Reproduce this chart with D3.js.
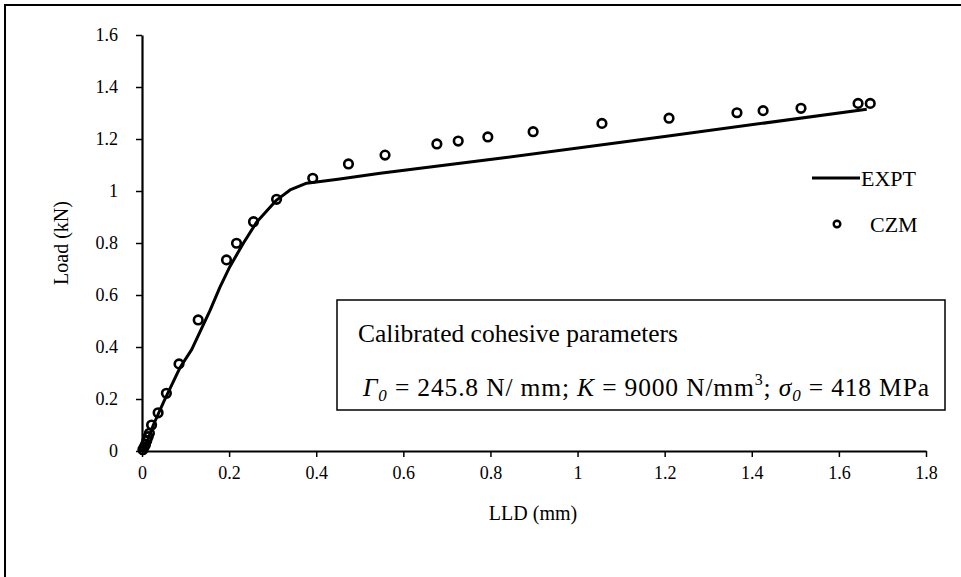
<!DOCTYPE html>
<html>
<head>
<meta charset="utf-8">
<script src="https://cdn.jsdelivr.net/npm/d3@7"></script>
<style>
  html, body { margin: 0; padding: 0; background: #fff; }
  svg { display: block; font-family: "Liberation Serif", "Times New Roman", serif; }
</style>
</head>
<body>
<svg id="chart" width="961" height="577"></svg>
<script>
// Experimental load–displacement curve (LLD in mm, Load in kN)
const exptLLD  = [0, 0.01, 0.026, 0.05, 0.087, 0.114, 0.156, 0.179, 0.202, 0.233, 0.263, 0.309, 0.34, 0.378, 0.45, 0.547, 0.822, 1.2, 1.664];
const exptLoad = [0, 0.03, 0.10, 0.19, 0.32, 0.39, 0.54, 0.63, 0.71, 0.80, 0.88, 0.965, 1.004, 1.03, 1.045, 1.068, 1.126, 1.21, 1.314];

// Cohesive zone model prediction
const czmLLD  = [0.002, 0.005, 0.008, 0.011, 0.014, 0.017, 0.022, 0.037, 0.056, 0.085, 0.129, 0.194, 0.217, 0.256, 0.309, 0.392, 0.474, 0.558, 0.677, 0.726, 0.794, 0.898, 1.056, 1.210, 1.366, 1.426, 1.513, 1.644, 1.672];
const czmLoad = [0.005, 0.015, 0.025, 0.04, 0.055, 0.068, 0.10, 0.147, 0.222, 0.335, 0.504, 0.735, 0.799, 0.882, 0.968, 1.049, 1.104, 1.138, 1.181, 1.192, 1.208, 1.228, 1.260, 1.280, 1.301, 1.309, 1.318, 1.337, 1.337];

const xTicks = [0, 0.2, 0.4, 0.6, 0.8, 1, 1.2, 1.4, 1.6, 1.8];
const xTickLabels = ["0", "0.2", "0.4", "0.6", "0.8", "1", "1.2", "1.4", "1.6", "1.8"];
const yTicks = [0, 0.2, 0.4, 0.6, 0.8, 1, 1.2, 1.4, 1.6];
const yTickLabels = ["0", "0.2", "0.4", "0.6", "0.8", "1", "1.2", "1.4", "1.6"];

const svg = d3.select("#chart");

// outer frame (only top and left edges fall inside the canvas)
svg.append("rect")
  .attr("x", 5).attr("y", 5).attr("width", 1200).attr("height", 1200)
  .attr("fill", "#fff").attr("stroke", "#000").attr("stroke-width", 2);

const x = d3.scaleLinear().domain([0, 1.8]).range([142, 926]);
const y = d3.scaleLinear().domain([0, 1.6]).range([451, 35]);

const xAxis = d3.axisBottom(x)
  .tickValues(xTicks)
  .tickFormat((d, i) => xTickLabels[i])
  .tickSize(6).tickSizeOuter(0).tickPadding(9);
const yAxis = d3.axisLeft(y)
  .tickValues(yTicks)
  .tickFormat((d, i) => yTickLabels[i])
  .tickSize(6).tickSizeOuter(0).tickPadding(18);

const gx = svg.append("g").attr("transform", `translate(0,${y(0)})`).call(xAxis);
const gy = svg.append("g").attr("transform", `translate(${x(0)},0)`).call(yAxis);

[gx, gy].forEach(g => {
  g.select(".domain").attr("stroke", "#000").attr("stroke-width", 2.2);
  g.selectAll(".tick line").attr("stroke", "#000").attr("stroke-width", 1.5);
  g.selectAll(".tick text")
    .attr("fill", "#000")
    .style("font-family", "'Liberation Serif', serif")
    .style("font-size", "18px");
});

// axis titles
svg.append("text")
  .attr("x", 533).attr("y", 520)
  .attr("text-anchor", "middle")
  .style("font-size", "20px")
  .text("LLD (mm)");

svg.append("text")
  .attr("transform", "translate(68,243) rotate(-90)")
  .attr("text-anchor", "middle")
  .style("font-size", "20px")
  .text("Load (kN)");

// experimental curve
const line = d3.line().x(d => x(d[0])).y(d => y(d[1]));
svg.append("path")
  .datum(exptLLD.map((v, i) => [v, exptLoad[i]]))
  .attr("d", line)
  .attr("fill", "none")
  .attr("stroke", "#000")
  .attr("stroke-width", 3)
  .attr("stroke-linejoin", "round");

// CZM markers
svg.append("g").selectAll("circle")
  .data(czmLLD.map((v, i) => [v, czmLoad[i]]))
  .join("circle")
  .attr("cx", d => x(d[0]))
  .attr("cy", d => y(d[1]))
  .attr("r", 4.3)
  .attr("fill", "none")
  .attr("stroke", "#000")
  .attr("stroke-width", 2.6);

// legend
svg.append("line")
  .attr("x1", 812).attr("x2", 860).attr("y1", 178).attr("y2", 178)
  .attr("stroke", "#000").attr("stroke-width", 3);
svg.append("text").attr("x", 861).attr("y", 186)
  .style("font-size", "22px").text("EXPT");
svg.append("circle")
  .attr("cx", 837).attr("cy", 224).attr("r", 3.3)
  .attr("fill", "none").attr("stroke", "#000").attr("stroke-width", 2.4);
svg.append("text").attr("x", 870).attr("y", 232)
  .style("font-size", "22px").text("CZM");

// parameter box
svg.append("rect")
  .attr("x", 337).attr("y", 300).attr("width", 608).attr("height", 110)
  .attr("fill", "#fff").attr("stroke", "#000").attr("stroke-width", 1.5);

svg.append("text").attr("x", 358).attr("y", 342)
  .style("font-size", "25.5px").text("Calibrated cohesive parameters");

const p = svg.append("text").attr("x", 363).attr("y", 396)
  .style("font-size", "25.5px")
  .attr("textLength", 566).attr("lengthAdjust", "spacing");
p.append("tspan").style("font-style", "italic").text("Γ");
p.append("tspan").style("font-style", "italic").style("font-size", "17px").attr("dy", 5).text("0");
p.append("tspan").attr("dy", -5).text(" = 245.8 N/ mm; ");
p.append("tspan").style("font-style", "italic").text("K");
p.append("tspan").text(" = 9000 N/mm");
p.append("tspan").style("font-size", "16px").attr("dy", -11).text("3");
p.append("tspan").attr("dy", 11).text("; ");
p.append("tspan").style("font-style", "italic").text("σ");
p.append("tspan").style("font-style", "italic").style("font-size", "17px").attr("dy", 5).text("0");
p.append("tspan").attr("dy", -5).text(" = 418 MPa");
</script>
</body>
</html>
